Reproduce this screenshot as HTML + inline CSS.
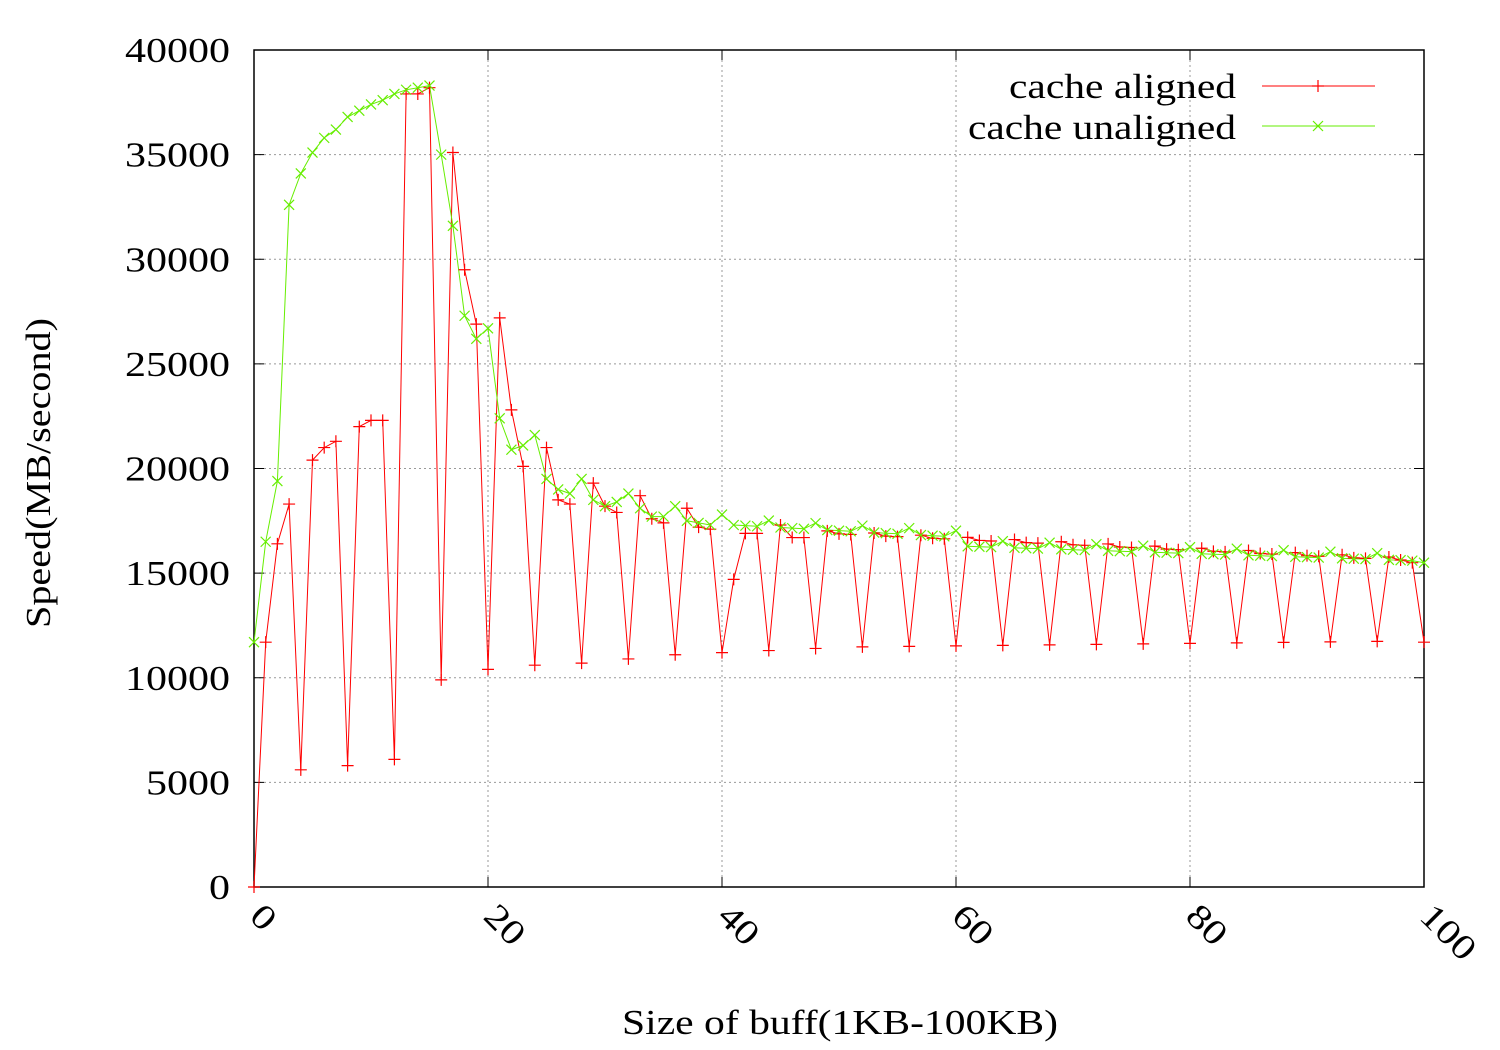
<!DOCTYPE html>
<html><head><meta charset="utf-8"><style>
html,body{margin:0;padding:0;background:#fff;}
svg{display:block;font-family:"Liberation Serif",serif;}
</style></head><body>
<svg id="s" width="1500" height="1050" viewBox="0 0 1500 1050" xmlns="http://www.w3.org/2000/svg"></svg>
<script>
var s=document.getElementById('s');
var X0=254,X1=1424,Y0=887,Y1=50;
function px(x){return X0+(X1-X0)*x/100;}
function py(y){return Y0-(Y0-Y1)*y/40000;}
function T(x,y,str,len,anchor,tr){return '<text x="'+x+'" y="'+y+'" font-size="35" textLength="'+len+'" lengthAdjust="spacingAndGlyphs"'+(anchor?' text-anchor="'+anchor+'"':'')+(tr?' transform="'+tr+'"':'')+'>'+str+'</text>';}
var h='';
for(var i=1;i<5;i++){var x=px(i*20);h+='<line x1="'+x+'" y1="'+Y1+'" x2="'+x+'" y2="'+Y0+'" stroke="#999" stroke-width="1" stroke-dasharray="2,3"/>';}
for(var j=1;j<8;j++){var y=py(j*5000);h+='<line x1="'+X0+'" y1="'+y+'" x2="'+X1+'" y2="'+y+'" stroke="#999" stroke-width="1" stroke-dasharray="2,3"/>';}
for(var j=0;j<=8;j++){var y=py(j*5000);h+='<line x1="'+X0+'" y1="'+y+'" x2="'+(X0+10)+'" y2="'+y+'" stroke="#000"/><line x1="'+X1+'" y1="'+y+'" x2="'+(X1-10)+'" y2="'+y+'" stroke="#000"/>';
var str=String(j*5000);h+=T(230,y+12,str,21*str.length,'end');}
for(var i=0;i<=5;i++){var x=px(i*20);h+='<line x1="'+x+'" y1="'+Y0+'" x2="'+x+'" y2="'+(Y0-10)+'" stroke="#000"/><line x1="'+x+'" y1="'+Y1+'" x2="'+x+'" y2="'+(Y1+10)+'" stroke="#000"/>';
var str=String(i*20);h+=T(x-6,918,str,21*str.length,null,'rotate(45 '+(x-6)+' 918)');}
h+='<rect x="'+X0+'" y="'+Y1+'" width="'+(X1-X0)+'" height="'+(Y0-Y1)+'" fill="none" stroke="#000" stroke-width="1.5"/>';
h+=T(840,1034,'Size of buff(1KB-100KB)',436,'middle');
h+=T(0,0,'Speed(MB/second)',310,'middle','translate(50 473) rotate(-90)');
var red=[0,11700,16400,18300,5600,20400,21000,21300,5800,22000,22300,22300,6100,37900,37900,38200,9900,35100,29500,26900,10400,27200,22800,20100,10600,21000,18500,18300,10700,19300,18200,17900,10900,18700,17600,17400,11100,18100,17200,17100,11200,14700,16900,16900,11300,17300,16700,16700,11400];
var green=[11700,16500,19400,32600,34100,35100,35800,36200,36800,37100,37400,37600,37900,38100,38200,38300,35000,31600,27300,26200,26700,22400,20900,21100,21600,19500,19000,18800,19500,18500,18200,18400,18800,18100,17700,17700,18200,17500,17400,17300,17800];
for(var x=49;x<=100;x++){var hi=16900-(x-49)*26;var lo=11450+(x-48)*6;
 if(x%4==0)red.push(lo);else red.push(hi+(x%4==1?120:0));}
red[100]=11700;red[99]=15500;
for(var x=41;x<=100;x++){var b=17300-(x-41)*30;if(x>60)b=16300-(x-60)*18;green.push(b+(x%4==0?300:0));}
green[100]=15500;
function path(a,c){var d='';for(var i=0;i<a.length;i++)d+=(i?'L':'M')+px(i).toFixed(1)+' '+py(a[i]).toFixed(1);return '<path d="'+d+'" fill="none" stroke="'+c+'" stroke-width="1"/>';}
h+=path(red,'#ff0000');h+=path(green,'#66ee00');
function plus(x,y,c){return '<path d="M'+(x-6)+' '+y+'H'+(x+6)+'M'+x+' '+(y-6)+'V'+(y+6)+'" stroke="'+c+'" stroke-width="1.2"/>';}
function cross(x,y,c){return '<path d="M'+(x-5)+' '+(y-5)+'L'+(x+5)+' '+(y+5)+'M'+(x-5)+' '+(y+5)+'L'+(x+5)+' '+(y-5)+'" stroke="'+c+'" stroke-width="1.2"/>';}
for(var i=0;i<red.length;i++)h+=plus(px(i),py(red[i]),'#ff0000');
for(var i=0;i<green.length;i++)h+=cross(px(i),py(green[i]),'#66ee00');
h+=T(1236,98,'cache aligned',227,'end');
h+='<line x1="1262" y1="86" x2="1375" y2="86" stroke="#ff0000"/>'+plus(1318,86,'#ff0000');
h+=T(1236,139,'cache unaligned',268,'end');
h+='<line x1="1262" y1="126" x2="1375" y2="126" stroke="#66ee00"/>'+cross(1318,126,'#66ee00');
s.innerHTML=h;
</script>
</body></html>
